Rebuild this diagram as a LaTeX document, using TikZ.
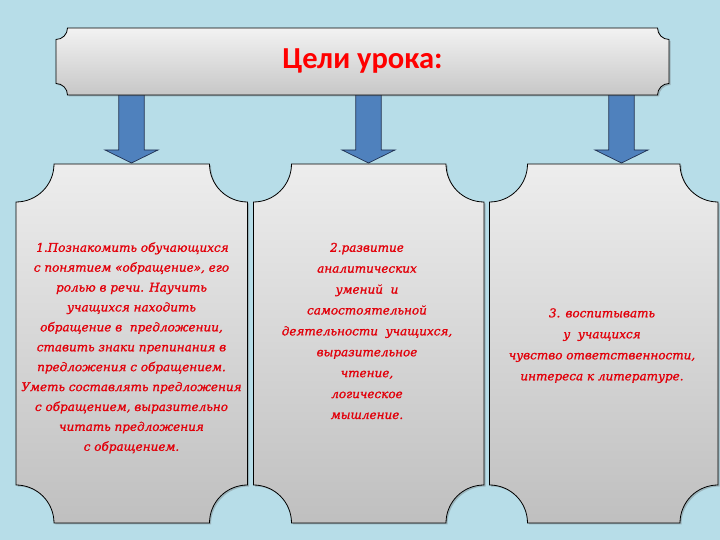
\documentclass[tikz,border=0pt]{standalone}
\usepackage{fontspec}
\setmainfont{DejaVu Serif}
\newfontfamily\titlefont{Carlito}
\newfontfamily\goalfont[ItalicFeatures={FakeBold=1.2}]{DejaVu Serif}
\usetikzlibrary{shadows,calc}
\definecolor{bgblue}{HTML}{B7DDE8}
\definecolor{arrowblue}{HTML}{4F81BD}
\definecolor{arrowline}{HTML}{1F2F4F}
\definecolor{goalred}{HTML}{E2000A}
\newcommand{\notchpath}[5]{% x1 y1 x2 y2 r  (y2 = top)
  (#1+#5,#4) -- (#3-#5,#4) arc[start angle=180,end angle=270,radius=#5]
  -- (#3,#2+#5) arc[start angle=90,end angle=180,radius=#5]
  -- (#1+#5,#2) arc[start angle=0,end angle=90,radius=#5]
  -- (#1,#4-#5) arc[start angle=270,end angle=360,radius=#5] -- cycle}
\newcommand{\blockarrow}[3]{% x  ytop  ytip
  (#1-12.7,#2) -- (#1+12.7,#2) -- (#1+12.7,#3+13) -- (#1+26.5,#3+13)
  -- (#1,#3) -- (#1-26.5,#3+13) -- (#1-12.7,#3+13) -- cycle}
\tikzset{
  panel/.style={draw=black, line width=0.8pt, top color=black!7, bottom color=black!25,
    drop shadow={shadow xshift=1.5pt, shadow yshift=-1.5pt, opacity=0.35, fill=black!60}},
  banner/.style={draw=black, line width=0.8pt, top color=black!5, bottom color=black!22,
    drop shadow={shadow xshift=1.5pt, shadow yshift=-1.5pt, opacity=0.35, fill=black!60}},
  blockarr/.style={fill=arrowblue, draw=arrowline, line width=0.7pt},
  goaltext/.style={text=goalred, align=center, font=\goalfont\itshape\fontsize{12}{19.9}\selectfont, inner sep=0pt},
}
\begin{document}
\begin{tikzpicture}[x=1pt,y=1pt]
\useasboundingbox (0,0) rectangle (720,540);
\fill[bgblue] (0,0) rectangle (720,540);
% arrows
\draw[blockarr] \blockarrow{131.5}{448}{377};
\draw[blockarr] \blockarrow{368.5}{448}{377};
\draw[blockarr] \blockarrow{621.5}{448}{377};
% title
\path[banner] \notchpath{56}{445}{669}{512}{11.5};
\node[text=red, font=\titlefont\bfseries\fontsize{30.5}{34}\selectfont] (title) at (362.5,479) {Цели урока:};
% panels
\path[panel] \notchpath{16}{17}{247.5}{376}{38};
\path[panel] \notchpath{253.5}{17}{484}{376}{38};
\path[panel] \notchpath{489.5}{17}{718}{376}{38};
\node[goaltext] (g1) at (131.5,192.2) {\,1.Познакомить обучающихся\\с понятием «обращение», его\\ролью в речи. Научить\\учащихся находить\\обращение в\ \ предложении,\\ставить знаки препинания в\\предложения с обращением.\\Уметь составлять предложения\\с обращением, выразительно\\читать предложения\\с обращением.};
\node[goaltext, font=\goalfont\itshape\fontsize{12}{20.9}\selectfont] (g2) at (367,209) {2.развитие\\аналитических\\умений\ \ и\\самостоятельной\\деятельности\ \ учащихся,\\выразительное\\чтение,\\логическое\\мышление.};
\node[goaltext, font=\goalfont\itshape\fontsize{12}{21}\selectfont] (g3) at (602,194.3) {3. воспитывать\\у\ \ учащихся\\чувство ответственности,\\интереса к литературе.};
\end{tikzpicture}
\end{document}
